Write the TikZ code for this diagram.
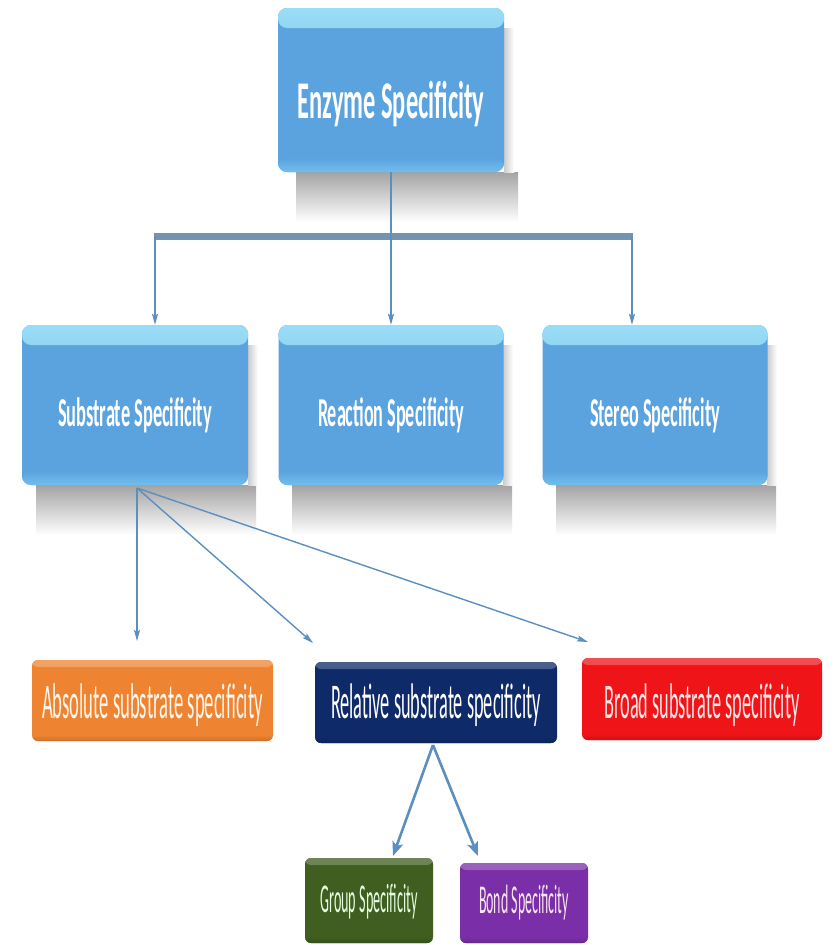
\documentclass[tikz,border=0pt]{standalone}
\usepackage{fontspec}
\setmainfont{Carlito}
\usepackage{graphicx}
\usetikzlibrary{arrows.meta,calc}
\definecolor{bluemain}{HTML}{5AA3DE}
\definecolor{bluetop}{HTML}{9ADDF6}
\definecolor{bluebot}{HTML}{72BEEE}
\definecolor{linkblue}{HTML}{5B8FBF}
\definecolor{barcol}{HTML}{7393AE}
\definecolor{orangebox}{HTML}{EE8431}
\definecolor{navybox}{HTML}{0F2A68}
\definecolor{redbox}{HTML}{EE1418}
\definecolor{greenbox}{HTML}{3F5E1F}
\definecolor{purplebox}{HTML}{7A2FA8}
\newcommand\fitw[3]{\resizebox{#1}{\height}{\fontsize{#2}{#2}\selectfont #3}}
\begin{document}
\begin{tikzpicture}[x=1pt,y=-1pt,
  bluebox/.style={rectangle, rounded corners=9pt, inner sep=0pt, fill=bluemain,
    path picture={
      \shade[top color=bluetop, bottom color=bluemain] (path picture bounding box.north west) rectangle ([yshift=-20pt]path picture bounding box.north east);
      \shade[top color=bluemain, bottom color=bluebot] ([yshift=14pt]path picture bounding box.south west) rectangle (path picture bounding box.south east);
    }},
  flatbox/.style={rectangle, rounded corners=6pt, inner sep=0pt, fill=#1,
    path picture={
      \shade[top color=#1!75!white, bottom color=#1] (path picture bounding box.north west) rectangle ([yshift=-7pt]path picture bounding box.north east);
      \shade[top color=#1, bottom color=#1!85!black] ([yshift=6pt]path picture bounding box.south west) rectangle (path picture bounding box.south east);
    }},
  txt/.style={inner sep=0pt, anchor=center},
  thinarrow/.style={draw=linkblue, line width=1.4pt, -{Stealth[length=11pt,width=6pt,inset=2pt]}},
  thickarrow/.style={draw=linkblue, line width=2.6pt, -{Stealth[length=14pt,width=11pt,inset=3pt]}},
  shadowv/.style={top color=black!36, bottom color=white},
  shadowh/.style={left color=black!20, right color=white}
]
\useasboundingbox (0,0) rectangle (833,945);
\fill[white] (0,0) rectangle (833,945);

% shadows
\shade[shadowv] (296,172) rectangle (518,222);
\shade[shadowh] (504,28) rectangle (514,172);
\shade[shadowv] (36,485) rectangle (256,535);
\shade[shadowh] (248,345) rectangle (258,485);
\shade[shadowv] (292,485) rectangle (512,535);
\shade[shadowh] (503,345) rectangle (513,485);
\shade[shadowv] (556,485) rectangle (776,535);
\shade[shadowh] (767,345) rectangle (777,485);

% boxes
\node[bluebox, minimum width=226pt, minimum height=164pt] (top) at (391,90) {};
\node[bluebox, minimum width=226pt, minimum height=160pt] (sub) at (135,405) {};
\node[bluebox, minimum width=225pt, minimum height=160pt] (rea) at (391,405) {};
\node[bluebox, minimum width=225pt, minimum height=160pt] (ste) at (655,405) {};
\node[flatbox=orangebox, minimum width=241pt, minimum height=81pt] (abs) at (152.5,700.5) {};
\node[flatbox=navybox, minimum width=242pt, minimum height=81pt] (rel) at (436,702.5) {};
\node[flatbox=redbox, minimum width=240pt, minimum height=82pt] (bro) at (702,699) {};
\node[flatbox=greenbox, minimum width=128pt, minimum height=85pt] (grp) at (369,900.5) {};
\node[flatbox=purplebox, minimum width=128pt, minimum height=80pt] (bnd) at (524,903) {};

% texts
\node[txt, text=white] (toptxt) at ($(top.center)+(0,14)$) {\fitw{187pt}{53}{\bfseries Enzyme Specificity}};
\node[txt, text=white] (subtxt) at ($(sub.center)+(0,10)$) {\fitw{154pt}{41}{\bfseries Substrate Specificity}};
\node[txt, text=white] (reatxt) at ($(rea.center)+(0,10)$) {\fitw{146pt}{41}{\bfseries Reaction Specificity}};
\node[txt, text=white] (stetxt) at ($(ste.center)+(0,10)$) {\fitw{130pt}{41}{\bfseries Stereo Specificity}};
\node[txt, text=orange!8!white] (abstxt) at ($(abs.center)+(0,5)$) {\fitw{221pt}{50}{Absolute substrate specificity}};
\node[txt, text=white] (reltxt) at ($(rel.center)+(0,3)$) {\fitw{210pt}{50}{Relative substrate specificity}};
\node[txt, text=red!10!white] (brotxt) at ($(bro.center)+(0,6)$) {\fitw{195pt}{50}{Broad substrate specificity}};
\node[txt, text=green!12!white] (grptxt) at ($(grp.center)+(0,1)$) {\fitw{97pt}{41}{Group Specificity}};
\node[txt, text=purple!10!white] (bndtxt) at ($(bnd.center)+(0,0)$) {\fitw{90pt}{41}{Bond Specificity}};

% connectors: top level
\coordinate (barL) at (155,236);
\coordinate (barR) at (632,236);
\draw[barcol, line width=7pt] ([xshift=-1pt]barL) -- ([xshift=1pt]barR);
\draw[linkblue, line width=1.4pt] (top.south) -- (top.south |- barL);
\draw[thinarrow] (barL) -- (barL |- sub.north);
\draw[thinarrow] (top.south |- barL) -- (top.south |- rea.north);
\draw[thinarrow] (barR) -- (barR |- ste.north);

% connectors: substrate specificity
\coordinate (subfoot) at (137,488);
\coordinate (absin) at (137,641);
\coordinate (relin) at (313,643);
\coordinate (broin) at (588,642);
\draw[thinarrow] (subfoot) -- (absin);
\draw[thinarrow] (subfoot) -- (relin);
\draw[thinarrow] (subfoot) -- (broin);

% connectors: relative substrate specificity
\coordinate (relfoot) at (433,745);
\coordinate (grpin) at (393,856);
\coordinate (bndin) at (478,856);
\draw[thickarrow] (relfoot) -- (grpin);
\draw[thickarrow] (relfoot) -- (bndin);
\end{tikzpicture}
\end{document}
